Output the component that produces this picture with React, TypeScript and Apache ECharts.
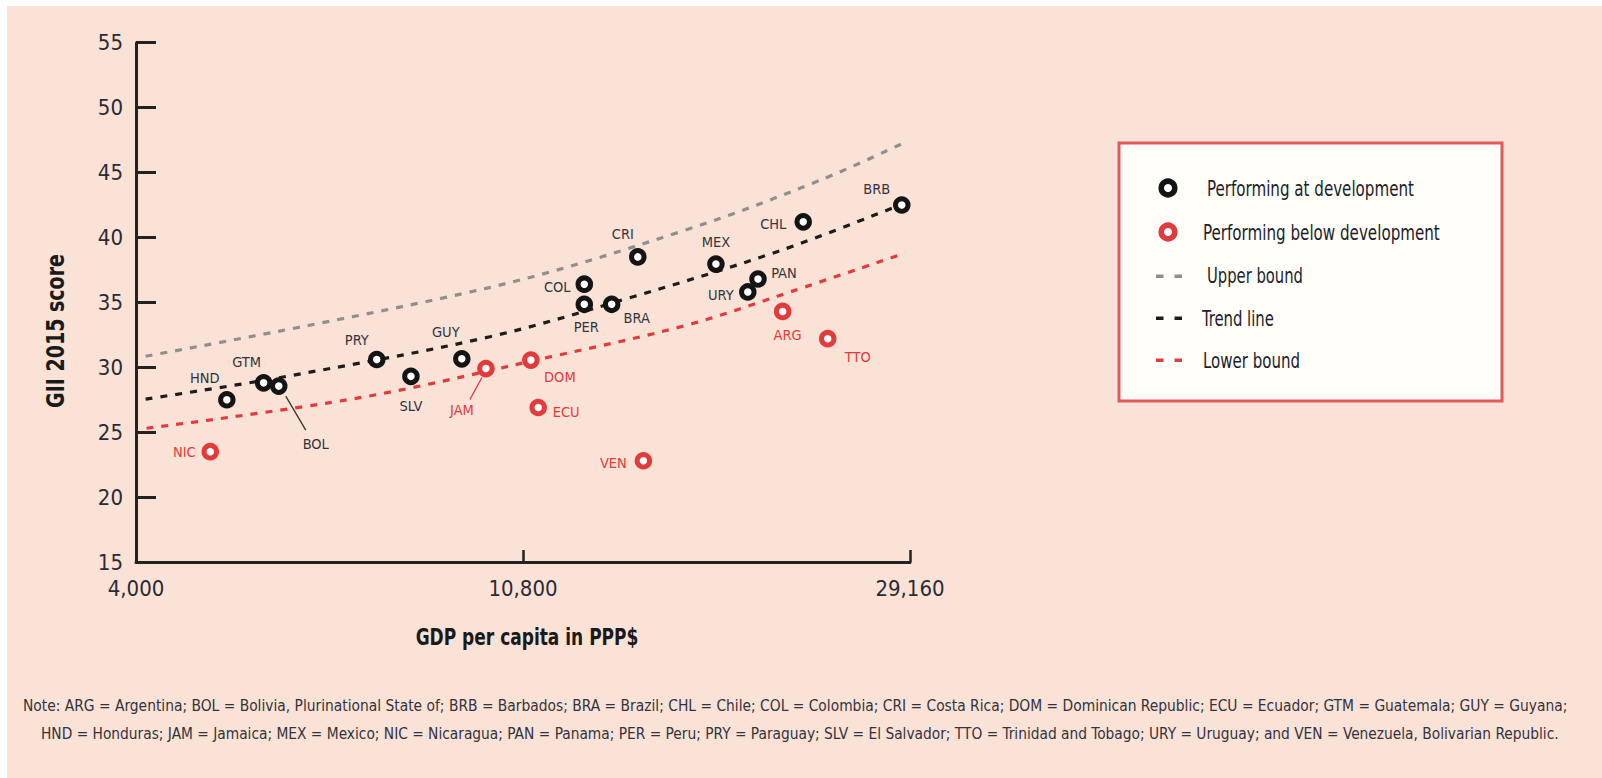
import React, { useEffect, useRef } from "react";
import * as echarts from "echarts";

// ---------- data ----------
const X_TICKS = [4000, 10800, 29160];
const X_TICK_LABELS = ["4,000", "10,800", "29,160"];
const Y_MIN = 15;
const Y_MAX = 55;
const Y_STEP = 5;

const atNames = ["HND", "GTM", "BOL", "PRY", "SLV", "GUY", "COL", "PER", "BRA", "CRI", "MEX", "URY", "PAN", "CHL", "BRB"];
const atGdp = [5050, 5550, 5770, 7420, 8100, 9230, 12640, 12640, 13560, 14500, 17720, 19230, 19740, 22170, 28550];
const atGii = [27.5, 28.8, 28.55, 30.6, 29.3, 30.65, 36.4, 34.85, 34.85, 38.5, 37.95, 35.8, 36.8, 41.2, 42.5];

const belowNames = ["NIC", "JAM", "DOM", "ECU", "VEN", "ARG", "TTO"];
const belowGdp = [4840, 9820, 11020, 11230, 14710, 21030, 23610];
const belowGii = [23.5, 29.9, 30.55, 26.9, 22.8, 34.3, 32.2];

const upperGdp = [4100, 9850, 16280, 23140, 28930];
const upperGii = [30.85, 36.1, 40.5, 44.4, 47.4];
const trendGdp = [4100, 5890, 9920, 13960, 20730, 28550];
const trendGii = [27.55, 29.3, 32.35, 35.2, 38.9, 42.55];
const lowerGdp = [4110, 7160, 11580, 16450, 21430, 28790];
const lowerGii = [25.3, 27.7, 30.8, 33.25, 35.8, 38.8];

const LEGEND_ITEMS = ["Performing at development", "Performing below development", "Upper bound", "Trend line", "Lower bound"];
const NOTE_LINES = [
  "Note: ARG = Argentina; BOL = Bolivia, Plurinational State of; BRB = Barbados; BRA = Brazil; CHL = Chile; COL = Colombia; CRI = Costa Rica; DOM = Dominican Republic; ECU = Ecuador; GTM = Guatemala; GUY = Guyana;",
  "HND = Honduras; JAM = Jamaica; MEX = Mexico; NIC = Nicaragua; PAN = Panama; PER = Peru; PRY = Paraguay; SLV = El Salvador; TTO = Trinidad and Tobago; URY = Uruguay; and VEN = Venezuela, Bolivarian Republic.",
];

// ---------- layout / style ----------
const W = 1602;
const H = 778;
const NARROW = '"DejaVu Sans Condensed", "Liberation Sans Narrow", "Arial Narrow", sans-serif';
const BLACK = "#141414";
const RED = "#e23b3b";
const GRAY = "#8f8f8f";
const TEXT = "#2a2a36";

const LABEL_OFFSET: Record<string, [number, number]> = {
  HND: [-22, -22],
  GTM: [-17, -21],
  BOL: [37, 58],
  PRY: [-20, -19],
  SLV: [0, 30],
  GUY: [-16, -27],
  CRI: [-15, -23],
  COL: [-27, 3],
  PER: [2, 23],
  BRA: [25, 14],
  MEX: [0, -22],
  PAN: [26, -6],
  URY: [-27, 3],
  CHL: [-30, 2],
  BRB: [-25, -16],
  NIC: [-26, 0],
  JAM: [-24, 41],
  DOM: [29, 17],
  ECU: [28, 4],
  VEN: [-30, 2],
  ARG: [5, 24],
  TTO: [30, 18],
};

const LEADERS: { name: string; from: [number, number]; to: [number, number]; color: string }[] = [
  { name: "BOL", from: [7, 10], to: [27, 44], color: "#333" },
  { name: "JAM", from: [-4, 9], to: [-16, 31], color: RED },
];

const toX = (g: number) => Math.log(g / X_TICKS[0]) / Math.log(X_TICKS[1] / X_TICKS[0]);

function textWidth(text: string, size: number, weight: string, family: string) {
  const c = document.createElement("canvas").getContext("2d");
  if (!c) return 0;
  c.font = `${weight} ${size}px ${family}`;
  return c.measureText(text).width;
}

function fitText(
  text: string,
  x: number,
  y: number,
  target: number,
  size: number,
  weight: string,
  family: string,
  extra: Record<string, unknown>,
  rotation = 0
) {
  const w = textWidth(text, size, weight, family);
  const s = w > 0 ? target / w : 1;
  return {
    type: "text",
    x,
    y,
    rotation,
    scaleX: s,
    style: { text, fontSize: size, fontWeight: weight, fontFamily: family, ...extra },
  };
}

const lineSeries = (name: string, xs: number[], ys: number[], color: string) => ({
  name,
  type: "line",
  data: xs.map((g, i) => [toX(g), ys[i]]),
  smooth: 0.35,
  symbol: "none",
  silent: true,
  z: 2,
  lineStyle: { color, width: 3.2, type: [7, 8] },
});

const scatterSeries = (name: string, names: string[], xs: number[], ys: number[], color: string, labelColor: string) => ({
  name,
  type: "scatter",
  z: 5,
  symbol: "circle",
  symbolSize: 12.5,
  itemStyle: { color: "#ffffff", borderColor: color, borderWidth: 5, opacity: 1 },
  label: {
    show: true,
    position: "inside",
    formatter: "{b}",
    fontSize: 14.5,
    fontFamily: NARROW,
    color: labelColor,
  },
  data: names.map((n, i) => ({
    name: n,
    value: [toX(xs[i]), ys[i]],
    label: { offset: LABEL_OFFSET[n] || [0, 0] },
  })),
});

export default function App() {
  const ref = useRef<HTMLDivElement>(null);

  useEffect(() => {
    document.body.style.margin = "0";
    if (!ref.current) return;
    const chart = echarts.init(ref.current, undefined, { renderer: "svg", width: W, height: H });

    chart.setOption({
      animation: false,
      backgroundColor: "transparent",
      grid: { left: 136, top: 42.7, right: W - 910, bottom: H - 562, containLabel: false },
      xAxis: {
        type: "value",
        min: 0,
        max: X_TICKS.length - 1,
        interval: 1,
        axisLine: { show: true, lineStyle: { color: "#222", width: 3 } },
        axisTick: { show: true, inside: true, length: 12, lineStyle: { color: "#222", width: 2.5 } },
        axisLabel: {
          margin: 15,
          fontSize: 22,
          fontFamily: NARROW,
          color: TEXT,
          formatter: (v: number) => X_TICK_LABELS[Math.round(v)] ?? "",
        },
        splitLine: { show: false },
      },
      yAxis: {
        type: "value",
        min: Y_MIN,
        max: Y_MAX,
        interval: Y_STEP,
        axisLine: { show: true, lineStyle: { color: "#222", width: 3 } },
        axisTick: { show: true, inside: true, length: 20, lineStyle: { color: "#222", width: 3 } },
        axisLabel: { margin: 13, fontSize: 22, fontFamily: NARROW, color: TEXT },
        splitLine: { show: false },
      },
      series: [
        lineSeries("Upper bound", upperGdp, upperGii, GRAY),
        lineSeries("Trend line", trendGdp, trendGii, "#1c1c1c"),
        lineSeries("Lower bound", lowerGdp, lowerGii, RED),
        scatterSeries(LEGEND_ITEMS[0], atNames, atGdp, atGii, BLACK, "#333340"),
        scatterSeries(LEGEND_ITEMS[1], belowNames, belowGdp, belowGii, RED, RED),
      ],
    });

    // leader lines (from pixel positions given by the chart's own scales)
    const leaderEls: any[] = [];
    LEADERS.forEach((l) => {
      let gdp = 0;
      let gii = 0;
      const ai = atNames.indexOf(l.name);
      if (ai >= 0) {
        gdp = atGdp[ai];
        gii = atGii[ai];
      } else {
        const bi = belowNames.indexOf(l.name);
        gdp = belowGdp[bi];
        gii = belowGii[bi];
      }
      const p = chart.convertToPixel({ gridIndex: 0 }, [toX(gdp), gii]) as number[];
      leaderEls.push({
        type: "line",
        shape: { x1: p[0] + l.from[0], y1: p[1] + l.from[1], x2: p[0] + l.to[0], y2: p[1] + l.to[1] },
        style: { stroke: l.color, lineWidth: 1.3 },
        z: 1,
      });
    });

    const legendX = 1119;
    const legendY = 143;
    const legendRows = [188, 232, 276, 318, 360];
    const legendTextX = [1207, 1203, 1207, 1202, 1203];
    const legendTextW = [207, 237, 96, 72, 97];
    const iconX = 1168;

    const legendEls: any[] = [
      {
        type: "rect",
        shape: { x: legendX, y: legendY, width: 1502 - legendX, height: 401 - legendY },
        style: { fill: "#fffef9", stroke: "#e05a5a", lineWidth: 3 },
      },
      {
        type: "circle",
        shape: { cx: iconX, cy: legendRows[0], r: 6.8 },
        style: { fill: "#fff", stroke: BLACK, lineWidth: 5.5 },
      },
      {
        type: "circle",
        shape: { cx: iconX, cy: legendRows[1], r: 6.8 },
        style: { fill: "#fff", stroke: RED, lineWidth: 5.5 },
      },
    ];
    [GRAY, "#1c1c1c", RED].forEach((c, k) => {
      const y = legendRows[2 + k];
      legendEls.push({ type: "rect", shape: { x: 1156, y: y - 1.5, width: 7.5, height: 3.5 }, style: { fill: c } });
      legendEls.push({ type: "rect", shape: { x: 1174.5, y: y - 1.5, width: 7.5, height: 3.5 }, style: { fill: c } });
    });
    LEGEND_ITEMS.forEach((t, i) => {
      legendEls.push(
        fitText(t, legendTextX[i], legendRows[i], legendTextW[i], 21, "normal", NARROW, {
          fill: "#1d1d2b",
          align: "left",
          verticalAlign: "middle",
        })
      );
    });

    const titleEls: any[] = [
      fitText("GDP per capita in PPP$", 527, 637, 223, 23, "bold", NARROW, {
        fill: "#1a1a1a",
        align: "center",
        verticalAlign: "middle",
      }),
      fitText(
        "GII 2015 score",
        56,
        331,
        154,
        24,
        "bold",
        NARROW,
        { fill: "#1a1a1a", align: "center", verticalAlign: "middle" },
        Math.PI / 2
      ),
      fitText(NOTE_LINES[0], 23, 705, 1546, 16.5, "normal", NARROW, {
        fill: "#33333d",
        align: "left",
        verticalAlign: "middle",
      }),
      fitText(NOTE_LINES[1], 41, 733, 1520, 16.5, "normal", NARROW, {
        fill: "#33333d",
        align: "left",
        verticalAlign: "middle",
      }),
    ];

    chart.setOption({ graphic: [...leaderEls, ...legendEls, ...titleEls] });

    return () => {
      chart.dispose();
    };
  }, []);

  return (
    <div style={{ position: "absolute", left: 0, top: 0, width: W, height: H, background: "#ffffff", overflow: "hidden" }}>
      <div style={{ position: "absolute", left: 7, top: 6, right: 0, bottom: 0, background: "#fae2d6" }} />
      <div ref={ref} style={{ position: "absolute", left: 0, top: 0, width: W, height: H }} />
    </div>
  );
}
